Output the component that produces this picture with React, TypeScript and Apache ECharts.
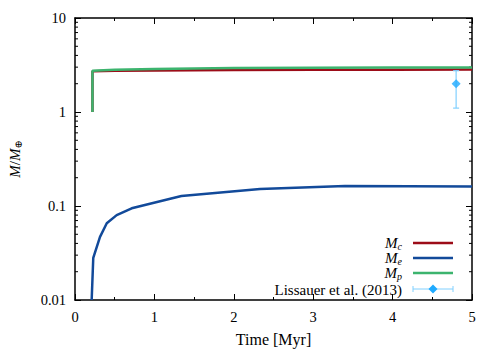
import { useEffect, useRef } from 'react';
import * as echarts from 'echarts';

// Core mass M_c
const mcTime = [0.22, 0.22, 0.5, 1.0, 2.0, 3.0, 4.0, 5.0];
const mcMass = [1.0, 2.72, 2.74, 2.76, 2.79, 2.81, 2.82, 2.83];
// Envelope mass M_e
const meTime = [0.21, 0.23, 0.315, 0.4, 0.525, 0.714, 1.34, 2.33, 3.4, 5.0];
const meMass = [0.01, 0.028, 0.047, 0.0655, 0.08, 0.0946, 0.128, 0.152, 0.163, 0.161];
// Planet mass M_p
const mpTime = [0.22, 0.22, 0.5, 1.0, 2.0, 3.0, 4.0, 5.0];
const mpMass = [1.0, 2.75, 2.82, 2.87, 2.93, 2.96, 2.97, 2.98];
// Lissauer et al. (2013)
const obsTime = [4.8];
const obsMass = [2.0];
const obsLow = [1.1];
const obsHigh = [2.75];

const yMinorTicks: number[] = [];
[0.01, 0.1, 1].forEach((d) => {
  for (let k = 2; k <= 9; k++) yMinorTicks.push(+(d * k).toPrecision(2));
});

const FONT = "'Liberation Serif', 'DejaVu Serif', serif";
const RED = '#9c0c18';
const BLUE = '#124a9a';
const GREEN = '#3cb46e';
const CYAN = '#1eaaff';
const CYAN_LIGHT = '#80d0ff';

const zip = (a: number[], b: number[]) => a.map((x, i) => [x, b[i]]);

export default function App() {
  const ref = useRef<HTMLDivElement>(null);
  useEffect(() => {
    if (!ref.current) return;
    const chart = echarts.init(ref.current, undefined, { renderer: 'svg' });
    const mathRich = {
      i: { fontFamily: FONT, fontStyle: 'italic', fontSize: 15, lineHeight: 14, color: '#000' },
      n: { fontFamily: FONT, fontSize: 15, lineHeight: 14, color: '#000' },
      s: { fontFamily: FONT, fontStyle: 'italic', fontSize: 10, lineHeight: 10, color: '#000', padding: [6, 0, 0, 0] },
      o: { fontFamily: FONT, fontSize: 10, lineHeight: 10, color: '#000', padding: [6, 0, 0, 0] },
    };
    const legendRows = [
      { y: 243, text: '{i|M}{s|c}', color: RED },
      { y: 258, text: '{i|M}{s|e}', color: BLUE },
      { y: 273, text: '{i|M}{s|p}', color: GREEN },
    ];
    const graphic: any[] = [];
    legendRows.forEach((r) => {
      graphic.push({
        type: 'text', x: 402, y: r.y,
        style: { text: r.text, rich: mathRich, textAlign: 'right', textVerticalAlign: 'middle' },
      });
      graphic.push({
        type: 'line', shape: { x1: 413, y1: r.y, x2: 453, y2: r.y },
        style: { stroke: r.color, lineWidth: 2.5 },
      });
    });
    graphic.push({
      type: 'text', x: 402, y: 289.5,
      style: { text: 'Lissauer et al. (2013)', fontFamily: FONT, fontSize: 15, lineHeight: 14, fill: '#000', textAlign: 'right', textVerticalAlign: 'middle' },
    });
    graphic.push({ type: 'line', shape: { x1: 413, y1: 289, x2: 453, y2: 289 }, style: { stroke: CYAN_LIGHT, lineWidth: 1 } });
    graphic.push({ type: 'line', shape: { x1: 413, y1: 286, x2: 413, y2: 292 }, style: { stroke: CYAN_LIGHT, lineWidth: 1 } });
    graphic.push({ type: 'line', shape: { x1: 453, y1: 286, x2: 453, y2: 292 }, style: { stroke: CYAN_LIGHT, lineWidth: 1 } });
    graphic.push({ type: 'polygon', shape: { points: [[433, 284.5], [437.5, 289], [433, 293.5], [428.5, 289]] }, style: { fill: CYAN } });

    const axisLineStyle = { color: '#000', width: 1.5 };
    const xCommon = {
      type: 'value', min: 0, max: 5, interval: 1,
      splitLine: { show: false },
      axisLine: { show: true, onZero: false, lineStyle: axisLineStyle },
      axisTick: { show: true, inside: true, length: 6, lineStyle: { color: '#000', width: 1 } },
      minorTick: { show: true, splitNumber: 2, length: 3, lineStyle: { color: '#000', width: 1 } },
    };
    const yCommon = {
      type: 'log', logBase: 10, min: 0.01, max: 10,
      splitLine: { show: false },
      axisLine: { show: true, onZero: false, lineStyle: axisLineStyle },
      axisTick: { show: true, inside: true, length: 6, lineStyle: { color: '#000', width: 1 } },
    };

    chart.setOption({
      animation: false,
      backgroundColor: '#fff',
      textStyle: { fontFamily: FONT },
      grid: { left: 75, right: 28, top: 18, bottom: 50, containLabel: false, outerBoundsMode: 'none' },
      xAxis: [
        {
          ...xCommon, position: 'bottom',
          axisLabel: { fontFamily: FONT, fontSize: 14.5, color: '#000', margin: 9 },
          name: 'Time [Myr]', nameLocation: 'middle', nameGap: 31,
          nameTextStyle: { fontFamily: FONT, fontSize: 16, color: '#000' },
        },
        { ...xCommon, position: 'top', axisLabel: { show: false } },
      ],
      yAxis: [
        {
          ...yCommon, position: 'left',
          axisLabel: {
            fontFamily: FONT, fontSize: 14.5, color: '#000', margin: 9,
            formatter: (v: number) => String(Number(v.toPrecision(1))),
          },
          name: '{i|M}{n|/}{i|M}{o|⊕}', nameLocation: 'middle', nameGap: 53, nameRotate: 90,
          nameTextStyle: { fontFamily: FONT, rich: mathRich },
        },
        { ...yCommon, position: 'right', axisLabel: { show: false } },
      ],
      graphic,
      series: [
        {
          type: 'custom', name: 'yminor', xAxisIndex: 0, yAxisIndex: 0, silent: true,
          data: yMinorTicks.map((v) => [0, v]),
          clip: false, z: 1,
          renderItem: (params: any, api: any) => {
            const v = api.value(1);
            const pl = api.coord([0, v]);
            const pr = api.coord([5, v]);
            const st = { stroke: '#000', lineWidth: 1 };
            return {
              type: 'group',
              children: [
                { type: 'line', shape: { x1: pl[0], y1: pl[1], x2: pl[0] + 3, y2: pl[1] }, style: st },
                { type: 'line', shape: { x1: pr[0], y1: pr[1], x2: pr[0] - 3, y2: pr[1] }, style: st },
              ],
            };
          },
        },
        {
          type: 'line', name: 'Mc', data: zip(mcTime, mcMass), showSymbol: false,
          lineStyle: { color: RED, width: 2.5 }, itemStyle: { color: RED }, z: 3,
        },
        {
          type: 'line', name: 'Me', data: zip(meTime, meMass), showSymbol: false,
          lineStyle: { color: BLUE, width: 2.5 }, itemStyle: { color: BLUE }, z: 3,
        },
        {
          type: 'line', name: 'Mp', data: zip(mpTime, mpMass), showSymbol: false,
          lineStyle: { color: GREEN, width: 2.5 }, itemStyle: { color: GREEN }, z: 4,
        },
        {
          type: 'custom', name: 'Lissauer err', z: 5,
          data: obsTime.map((t, i) => [t, obsLow[i], obsHigh[i]]),
          renderItem: (params: any, api: any) => {
            const lo = api.coord([api.value(0), api.value(1)]);
            const hi = api.coord([api.value(0), api.value(2)]);
            const st = { stroke: CYAN_LIGHT, lineWidth: 1.2 };
            return {
              type: 'group',
              children: [
                { type: 'line', shape: { x1: lo[0], y1: lo[1], x2: hi[0], y2: hi[1] }, style: st },
                { type: 'line', shape: { x1: lo[0] - 3, y1: lo[1], x2: lo[0] + 3, y2: lo[1] }, style: st },
                { type: 'line', shape: { x1: hi[0] - 3, y1: hi[1], x2: hi[0] + 3, y2: hi[1] }, style: st },
              ],
            };
          },
        },
        {
          type: 'scatter', name: 'Lissauer et al. (2013)', z: 6,
          data: zip(obsTime, obsMass), symbol: 'diamond', symbolSize: 9,
          itemStyle: { color: CYAN },
        },
      ],
    });
    return () => chart.dispose();
  }, []);
  return <div ref={ref} style={{ width: 500, height: 350, position: 'absolute', left: 0, top: 0 }} />;
}
